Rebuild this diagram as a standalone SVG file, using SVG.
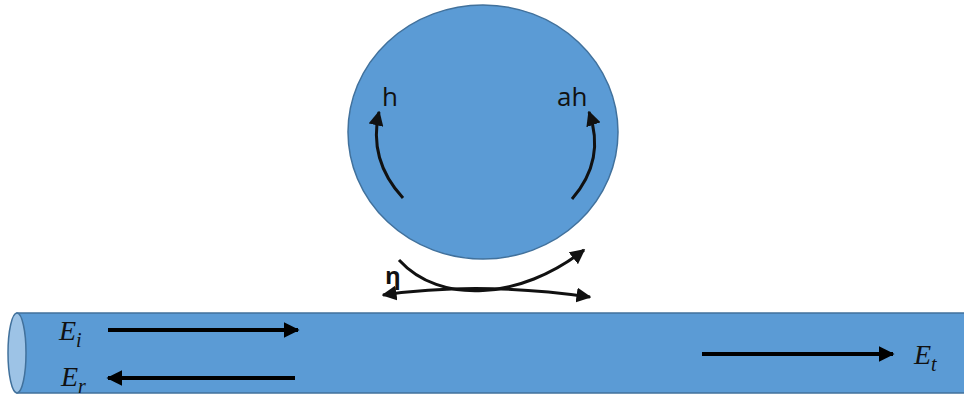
<svg xmlns="http://www.w3.org/2000/svg" width="964" height="398" viewBox="0 0 964 398">
<defs>
<style>
.body{fill:#5b9bd5;stroke:#41719c;stroke-width:1.5}
.arr{fill:none;stroke:#000;stroke-width:4}
.crv{fill:none;stroke:#111;stroke-width:3}
.lbl{font-family:"Open Sans","Noto Sans",sans-serif;font-size:26px;fill:#111}
.math{font-family:"Liberation Serif",serif;font-style:italic;font-size:28px;fill:#111}
.sub{font-size:20px}
</style>
<marker id="ah" viewBox="0 0 10 10" refX="9" refY="5" markerWidth="4" markerHeight="4" orient="auto-start-reverse" markerUnits="strokeWidth">
<path d="M0,0 L10,5 L0,10 z" fill="#000"/>
</marker>
<marker id="ah2" viewBox="0 0 10 10" refX="9" refY="5" markerWidth="5" markerHeight="5" orient="auto-start-reverse" markerUnits="strokeWidth">
<path d="M0,0 L10,5 L0,10 z" fill="#111"/>
</marker>
</defs>
<rect width="964" height="398" fill="#fff"/>
<g id="ring">
<ellipse class="body" cx="483" cy="132" rx="135" ry="127"/>
<text class="lbl" x="382" y="106">h</text>
<text class="lbl" x="557" y="106">ah</text>
</g>
<g id="waveguide">
<path class="body" d="M17,313 L966,313 L966,393 L17,393 Z"/>
<ellipse cx="17" cy="353" rx="9" ry="40" fill="#9dc3e6" stroke="#41719c" stroke-width="1.5"/>
</g>
<g id="labels">
<text class="math" x="59" y="340">E<tspan class="sub" dy="7">i</tspan></text>
<text class="math" x="61" y="386">E<tspan class="sub" dy="7">r</tspan></text>
<text class="math" x="914" y="364">E<tspan class="sub" dy="7">t</tspan></text>
<text class="lbl" x="385" y="284" style="font-weight:bold;font-size:24px">η</text>
</g>
<g id="connectors">
<line class="arr" x1="108" y1="330" x2="298" y2="330" marker-end="url(#ah)"/>
<line class="arr" x1="295" y1="378" x2="108" y2="378" marker-end="url(#ah)"/>
<line class="arr" x1="702" y1="354" x2="893" y2="354" marker-end="url(#ah)"/>
<path class="crv" d="M403,198 Q368,160 379,112" marker-end="url(#ah2)"/>
<path class="crv" d="M572,199 Q606,160 589,112" marker-end="url(#ah2)"/>
<path class="crv" d="M383,295 Q478,281 590,297" marker-start="url(#ah2)" marker-end="url(#ah2)"/>
<path class="crv" d="M399,260 C440,305 520,300 584,250" marker-end="url(#ah2)"/>
</g>
</svg>
